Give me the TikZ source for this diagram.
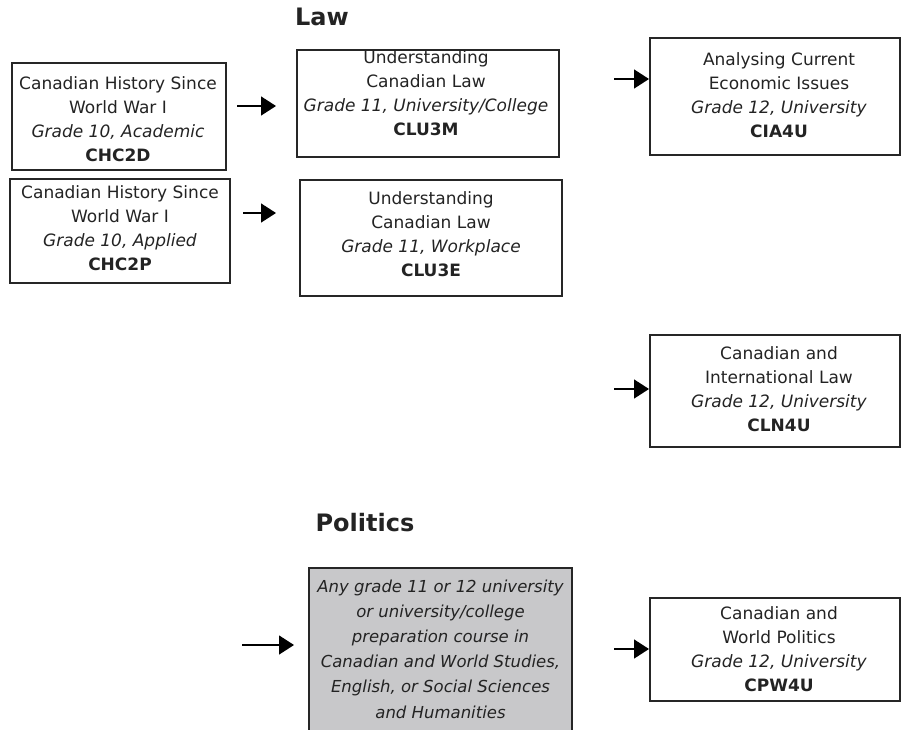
\documentclass[tikz,border=0pt]{standalone}
\usepackage{fontspec}
\setmainfont{DejaVu Sans}
\usetikzlibrary{arrows.meta}
\definecolor{txtc}{RGB}{35,35,35}
\definecolor{boxfill}{RGB}{200,200,202}
\tikzset{
  box/.style={draw=black!85, line width=1.3pt, rectangle, inner sep=0pt},
  graybox/.style={box, fill=boxfill},
  txt/.style={align=center, inner sep=0pt, text=txtc, font=\fontsize{17}{24}\selectfont},
  head/.style={text=txtc, inner sep=0pt, font=\fontsize{24}{28}\selectfont\bfseries},
  arr/.style={line width=1.4pt, -{Triangle[length=15pt,width=19pt]}},
}
\begin{document}
\begin{tikzpicture}[x=1pt,y=-1pt]
\useasboundingbox (0,0) rectangle (902,729);
\clip (0,0) rectangle (902,729);
% headings
\node[head] (law) at (322,17) {Law};
\node[head] (pol) at (365,523) {Politics};
% boxes
\node[box, minimum width=214pt, minimum height=107pt] (chc2d) at (119,116.5) {};
\node[txt] (chc2dt) at (118,119) {Canadian History Since\\World War I\\\textit{Grade 10, Academic}\\\textbf{CHC2D}};
\node[box, minimum width=220pt, minimum height=104pt] (chc2p) at (120,231) {};
\node[txt] (chc2pt) at (120,228) {Canadian History Since\\World War I\\\textit{Grade 10, Applied}\\\textbf{CHC2P}};
\node[box, minimum width=262pt, minimum height=107pt] (clu3m) at (428,103.5) {};
\node[txt] (clu3mt) at (426,93) {Understanding\\Canadian Law\\\textit{Grade 11, University/College}\\\textbf{CLU3M}};
\node[box, minimum width=262pt, minimum height=116pt] (clu3e) at (431,238) {};
\node[txt] (clu3et) at (431,234) {Understanding\\Canadian Law\\\textit{Grade 11, Workplace}\\\textbf{CLU3E}};
\node[box, minimum width=250pt, minimum height=117pt] (cia4u) at (775,96.5) {};
\node[txt] (cia4ut) at (779,95) {Analysing Current\\Economic Issues\\\textit{Grade 12, University}\\\textbf{CIA4U}};
\node[box, minimum width=250pt, minimum height=112pt] (cln4u) at (775,391) {};
\node[txt] (cln4ut) at (779,389) {Canadian and\\International Law\\\textit{Grade 12, University}\\\textbf{CLN4U}};
\node[box, minimum width=250pt, minimum height=103pt] (cpw4u) at (775,649.5) {};
\node[txt] (cpw4ut) at (779,649) {Canadian and\\World Politics\\\textit{Grade 12, University}\\\textbf{CPW4U}};
\node[graybox, minimum width=263pt, minimum height=200pt] (any) at (440.5,668) {};
\node[txt, font=\fontsize{16.5}{25.2}\selectfont\itshape] (anyt) at (440.5,649) {Any grade 11 or 12 university\\or university/college\\preparation course in\\Canadian and World Studies,\\English, or Social Sciences\\and Humanities};
% arrow coordinates
\coordinate (a1s) at (237,106); \coordinate (a1e) at (276,106);
\coordinate (a2s) at (243,213); \coordinate (a2e) at (276,213);
\coordinate (a3s) at (614,79);  \coordinate (a3e) at (649,79);
\coordinate (a4s) at (614,389); \coordinate (a4e) at (649,389);
\coordinate (a5s) at (242,645); \coordinate (a5e) at (294,645);
\coordinate (a6s) at (614,649); \coordinate (a6e) at (649,649);
\draw[arr] (a1s) -- (a1e);
\draw[arr] (a2s) -- (a2e);
\draw[arr] (a3s) -- (a3e);
\draw[arr] (a4s) -- (a4e);
\draw[arr] (a5s) -- (a5e);
\draw[arr] (a6s) -- (a6e);
\end{tikzpicture}
\end{document}
